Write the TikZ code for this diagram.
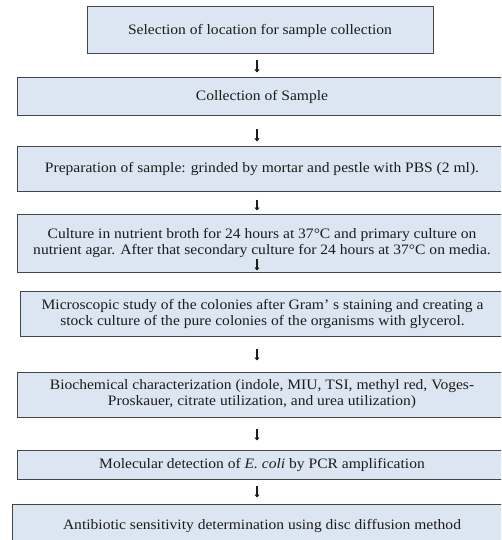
\documentclass[tikz,border=0pt]{standalone}
\usepackage{fontspec}
\setmainfont{Liberation Serif}[FakeStretch=1.08]
\usepackage{tikz}
\usetikzlibrary{calc}
\usetikzlibrary{arrows.meta}
\definecolor{boxfill}{HTML}{DCE6F2}
\definecolor{boxline}{HTML}{454545}
\definecolor{inktext}{HTML}{1C1C1C}
\tikzset{>=latex}
\tikzset{stepbox/.style = {draw=boxline, fill=boxfill, line width=1pt, inner sep=0pt,
                           align=center, text=inktext,
                           font=\fontsize{14.4}{16}\selectfont}}
\tikzset{flow/.style = {-{Triangle[length=3pt,width=5pt]}, line width=2.6pt, inktext}}

\begin{document}
\begin{tikzpicture}[x=1pt,y=-1pt]
                    \clip (0,0) rectangle (501,540);
                    \fill[white] (0,0) rectangle (501,540);
                    \coordinate (ax) at (257,0);

                    \node[stepbox, minimum width=346pt, minimum height=47pt] (s1) at (260,30.5)
                        {Selection of location for sample collection};
                    \node[stepbox, minimum width=490pt, minimum height=38pt] (s2) at (262,97)
                        {Collection of Sample};
                    \node[stepbox, minimum width=490pt, minimum height=44pt] (s3) at (262,169)
                        {Preparation of sample: grinded by mortar and pestle with PBS (2 ml).};
                    \node[stepbox, minimum width=490pt, minimum height=58pt] (s4) at (262,243)
                        {Culture in nutrient broth for 24 hours at 37°C and primary culture on\\
                         nutrient agar. After that secondary culture for 24 hours at 37°C on media.};
                    \node[stepbox, minimum width=485pt, minimum height=45pt] (s5) at (262.5,313.5)
                        {Microscopic study of the colonies after Gram’ s staining and creating a\\
                         stock culture of the pure colonies of the organisms with glycerol.};
                    \node[stepbox, minimum width=490pt, minimum height=45pt] (s6) at (262,394.5)
                        {Biochemical characterization (indole, MIU, TSI, methyl red, Voges-\\
                         Proskauer, citrate utilization, and urea utilization)};
                    \node[stepbox, minimum width=490pt, minimum height=29pt] (s7) at (262,464.5)
                        {Molecular detection of \textit{E. coli} by PCR amplification};
                    \node[stepbox, minimum width=500pt, minimum height=44pt] (s8) at (262,526)
                        {Antibiotic sensitivity determination using disc diffusion method};

                    % Arrow 1 to 2
                    \draw[flow] ([yshift=-6pt]s1.south -| ax) -- ([yshift=5pt]s2.north -| ax);

                    % Arrow 2 to 3
                    \draw[flow] ([yshift=-13pt]s2.south -| ax) -- ([yshift=5pt]s3.north -| ax);

                    % Arrow 3 to 4
                    \draw[flow] ([yshift=-8pt]s3.south -| ax) -- ([yshift=3pt]s4.north -| ax);

                    % Arrow 4 to 5
                    \draw[flow] ([yshift=14pt]s4.south -| ax) -- ([yshift=20pt]s5.north -| ax);

                    % Arrow 5 to 6
                    \draw[flow] ([yshift=-12pt]s5.south -| ax) -- ([yshift=11pt]s6.north -| ax);

                    % Arrow 6 to 7
                    \draw[flow] ([yshift=-11pt]s6.south -| ax) -- ([yshift=9pt]s7.north -| ax);

                    % Arrow 7 to 8
                    \draw[flow] ([yshift=-6pt]s7.south -| ax) -- ([yshift=6pt]s8.north -| ax);
                \end{tikzpicture}
\end{document}
